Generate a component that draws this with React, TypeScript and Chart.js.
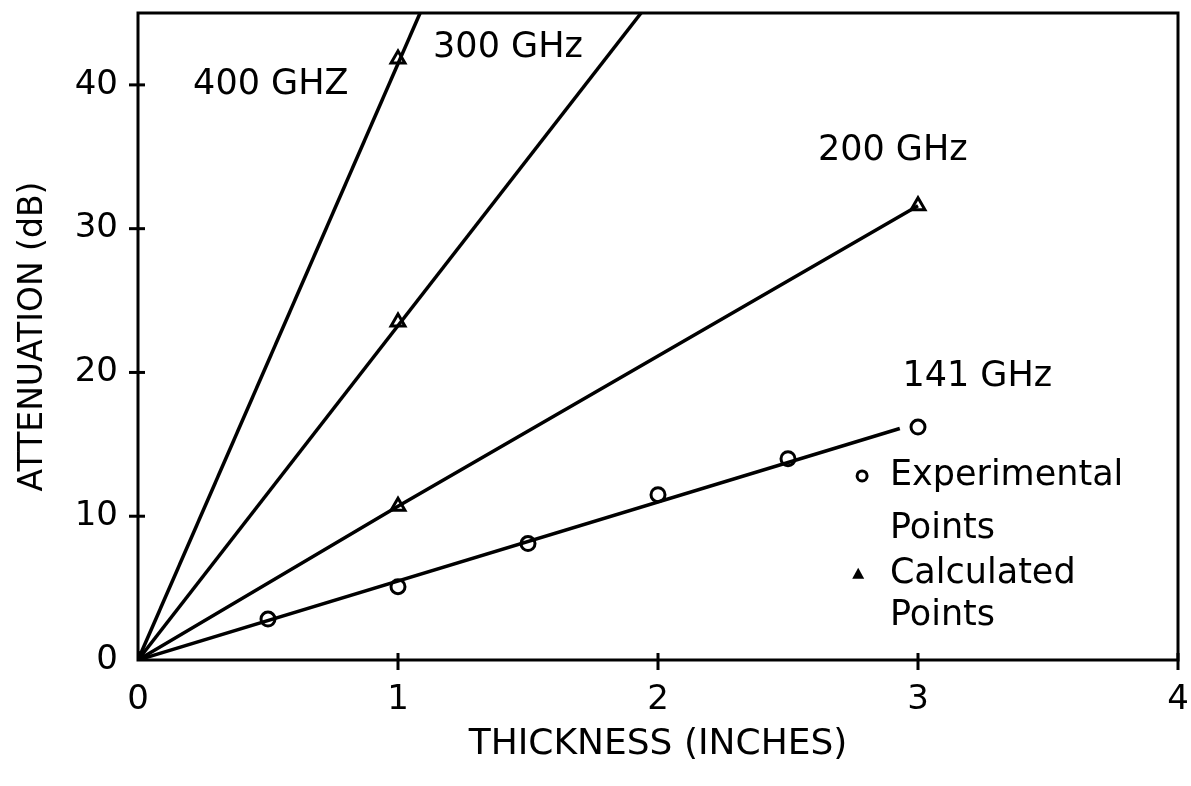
import React, { useEffect, useRef } from "react";
import { Chart, registerables } from "chart.js";

Chart.register(...registerables);

const FONT = '"DejaVu Sans", "Noto Sans", sans-serif';

// Axis ticks
const xTicks = [0, 1, 2, 3, 4];
const yTicks = [0, 10, 20, 30, 40];

// 141 GHz experimental points
const exp141X = [0, 0.5, 1, 1.5, 2, 2.5, 3];
const exp141Y = [0, 2.85, 5.1, 8.1, 11.5, 14.0, 16.2];
// 141 GHz fitted line (start / end)
const line141X = [0, 2.93];
const line141Y = [0, 16.1];

// 200 GHz calculated points and line
const calc200X = [0, 1, 3];
const calc200Y = [0, 10.7, 31.6];

// 300 GHz calculated point and line (line leaves the top of the plot)
const calc300X = [0, 1];
const calc300Y = [0, 23.5];
const line300X = [0, 1.935];
const line300Y = [0, 45];

// 400 GHz calculated point and line
const calc400X = [0, 1];
const calc400Y = [0, 41.8];
const line400X = [0, 1.085];
const line400Y = [0, 45];

// Text annotations anchored in data coordinates
const labelTexts = ["400 GHZ", "300 GHz", "200 GHz", "141 GHz", "Experimental", "Points", "Calculated", "Points"];
const labelX = [0.212, 1.135, 2.615, 2.94, 2.892, 2.892, 2.892, 2.892];
const labelY = [40.0, 42.6, 35.4, 19.7, 12.8, 9.1, 6.0, 3.1];
const legendMarkers = ["circle", "triangle"];
const legendMarkerX = [2.785, 2.77];
const legendMarkerY = [12.8, 6.0];

const pts = (xs: number[], ys: number[]) => xs.map((x, i) => ({ x, y: ys[i] }));

const framePlugin = {
  id: "frame",
  afterDraw(chart: any) {
    const { ctx, chartArea: a, scales } = chart;
    const xs = scales.x;
    const ys = scales.y;
    ctx.save();
    ctx.strokeStyle = "#000";
    ctx.lineWidth = 3;
    ctx.strokeRect(a.left, a.top, a.right - a.left, a.bottom - a.top);
    // tick marks crossing the axes
    yTicks.forEach((v) => {
      if (v === 0) return;
      const y = ys.getPixelForValue(v);
      ctx.beginPath();
      ctx.moveTo(a.left - 9, y);
      ctx.lineTo(a.left + 7, y);
      ctx.stroke();
    });
    xTicks.forEach((v) => {
      if (v === 0) return;
      const x = xs.getPixelForValue(v);
      ctx.beginPath();
      ctx.moveTo(x, a.bottom - 7);
      ctx.lineTo(x, a.bottom + 10);
      ctx.stroke();
    });
    // annotations
    ctx.fillStyle = "#000";
    ctx.font = `35px ${FONT}`;
    ctx.textAlign = "left";
    ctx.textBaseline = "middle";
    labelTexts.forEach((t, i) => {
      ctx.fillText(t, xs.getPixelForValue(labelX[i]), ys.getPixelForValue(labelY[i]));
    });
    // legend markers
    legendMarkers.forEach((m, i) => {
      const cx = xs.getPixelForValue(legendMarkerX[i]);
      const cy = ys.getPixelForValue(legendMarkerY[i]);
      ctx.beginPath();
      if (m === "circle") {
        ctx.lineWidth = 3;
        ctx.arc(cx, cy, 5, 0, Math.PI * 2);
        ctx.stroke();
      } else {
        ctx.moveTo(cx, cy - 6);
        ctx.lineTo(cx + 6, cy + 5);
        ctx.lineTo(cx - 6, cy + 5);
        ctx.closePath();
        ctx.fill();
      }
    });
    ctx.restore();
  },
};

export default function App() {
  const ref = useRef<HTMLCanvasElement | null>(null);
  useEffect(() => {
    if (!ref.current) return;
    const lineDs = (data: any[]) => ({
      data,
      showLine: true,
      borderColor: "#000",
      borderWidth: 3.5,
      pointRadius: 0,
      clip: 0,
    });
    const markerDs = (data: any[], style: string, radius: number) => ({
      data,
      showLine: false,
      pointStyle: style,
      pointRadius: radius,
      pointBorderWidth: 3,
      pointBorderColor: "#000",
      pointBackgroundColor: "#fff",
      clip: 0,
    });
    const chart = new Chart(ref.current, {
      type: "scatter",
      data: {
        datasets: [
          lineDs(pts(line141X, line141Y)),
          lineDs(pts(calc200X, calc200Y)),
          lineDs(pts(line300X, line300Y)),
          lineDs(pts(line400X, line400Y)),
          markerDs(pts(exp141X, exp141Y), "circle", 7),
          markerDs(pts(calc200X, calc200Y), "triangle", 8),
          markerDs(pts(calc300X, calc300Y), "triangle", 8),
          markerDs(pts(calc400X, calc400Y), "triangle", 8),
        ] as any,
      },
      options: {
        animation: false,
        responsive: true,
        maintainAspectRatio: false,
        layout: { padding: { top: 13, right: 13, left: 0, bottom: 0 } },
        plugins: { legend: { display: false }, tooltip: { enabled: false } },
        scales: {
          x: {
            type: "linear",
            min: 0,
            max: 4,
            afterBuildTicks: (s: any) => {
              s.ticks = xTicks.map((v) => ({ value: v }));
            },
            afterFit: (s: any) => {
              s.height = 126;
              s.paddingLeft = 0;
              s.paddingRight = 0;
            },
            grid: { display: false, drawTicks: false },
            border: { display: false },
            ticks: { color: "#000", font: { family: FONT, size: 34 }, padding: 20, maxRotation: 0 },
            title: {
              display: true,
              text: "THICKNESS (INCHES)",
              color: "#000",
              font: { family: FONT, size: 36 },
              padding: { top: 4, bottom: 20 },
            },
          },
          y: {
            type: "linear",
            min: 0,
            max: 45,
            afterBuildTicks: (s: any) => {
              s.ticks = yTicks.map((v) => ({ value: v }));
            },
            afterFit: (s: any) => {
              s.width = 138;
              s.paddingTop = 0;
              s.paddingBottom = 0;
            },
            grid: { display: false, drawTicks: false },
            border: { display: false },
            ticks: { color: "#000", font: { family: FONT, size: 34 }, padding: 20 },
            title: {
              display: true,
              text: "ATTENUATION (dB)",
              color: "#000",
              font: { family: FONT, size: 33 },
              padding: { top: 14, bottom: 6 },
            },
          },
        },
      } as any,
      plugins: [framePlugin],
    });
    return () => chart.destroy();
  }, []);
  return (
    <div style={{ position: "absolute", left: 0, top: 0, width: 1191, height: 786, background: "#fff" }}>
      <canvas ref={ref} />
    </div>
  );
}
